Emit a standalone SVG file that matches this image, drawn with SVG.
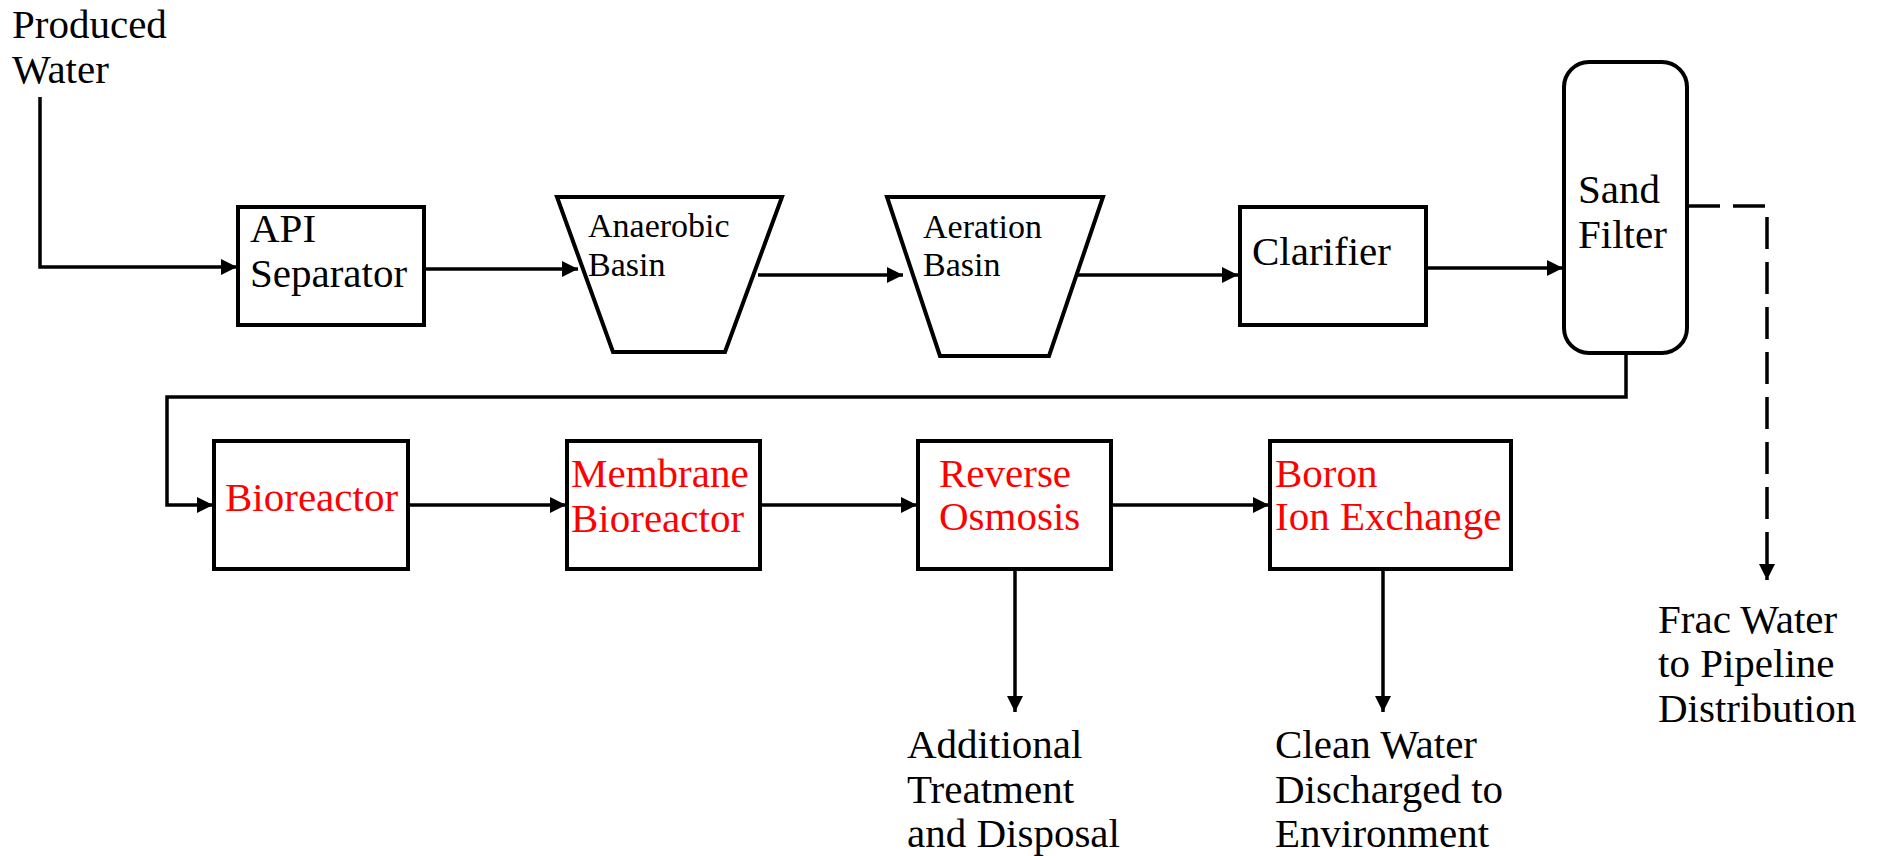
<svg xmlns="http://www.w3.org/2000/svg" width="1881" height="856" viewBox="0 0 1881 856">
<defs>
<marker id="arr" markerUnits="userSpaceOnUse" markerWidth="16" markerHeight="16" refX="16" refY="8" orient="auto">
<path d="M0,0 L16,8 L0,16 Z" fill="#000"/>
</marker>
<style>
.box{fill:#fff;stroke:#000;stroke-width:4}
.ln{fill:none;stroke:#000;stroke-width:3.5;marker-end:url(#arr)}
.dash{stroke-dasharray:32 13}
.t{font-family:"Liberation Serif","Times New Roman",serif;font-size:41px;fill:#000}
.s{font-size:34px}
.r{fill:#ff0000}
</style>
</defs>
<rect width="1881" height="856" fill="#fff"/>
<g id="connectors">
<path class="ln" d="M40,97 V267 H237"/>
<path class="ln" d="M424,269 H578"/>
<path class="ln" d="M758,275 H903"/>
<path class="ln" d="M1078,275 H1238"/>
<path class="ln" d="M1426,268 H1563"/>
<path class="ln dash" d="M1688,206 H1767 V580"/>
<path class="ln" d="M1626,353 V397 H167 V505 H213"/>
<path class="ln" d="M408,505 H566"/>
<path class="ln" d="M760,505 H917"/>
<path class="ln" d="M1111,505 H1269"/>
<path class="ln" d="M1015,569 V712"/>
<path class="ln" d="M1383,569 V712"/>
</g>
<g id="produced-water">
<text class="t" x="12" y="38">Produced</text>
<text class="t" x="12" y="83">Water</text>
</g>
<g id="api-separator">
<rect class="box" x="238" y="207" width="186" height="118"/>
<text class="t" x="250" y="242">API</text>
<text class="t" x="250" y="287">Separator</text>
</g>
<g id="anaerobic-basin">
<polygon class="box" points="557,197 782,197 725,352 613,352"/>
<text class="t s" x="588" y="237">Anaerobic</text>
<text class="t s" x="588" y="276">Basin</text>
</g>
<g id="aeration-basin">
<polygon class="box" points="887,197 1103,197 1049,356 940,356"/>
<text class="t s" x="923" y="238">Aeration</text>
<text class="t s" x="923" y="276">Basin</text>
</g>
<g id="clarifier">
<rect class="box" x="1240" y="207" width="186" height="118"/>
<text class="t" x="1252" y="265">Clarifier</text>
</g>
<g id="sand-filter">
<rect class="box" x="1564" y="62" width="123" height="291" rx="25" ry="25"/>
<text class="t" x="1578" y="203">Sand</text>
<text class="t" x="1578" y="248">Filter</text>
</g>
<g id="frac-water">
<text class="t" x="1658" y="633">Frac Water</text>
<text class="t" x="1658" y="677">to Pipeline</text>
<text class="t" x="1658" y="722">Distribution</text>
</g>
<g id="bioreactor">
<rect class="box" x="214" y="441" width="194" height="128"/>
<text class="t r" x="225" y="511">Bioreactor</text>
</g>
<g id="membrane-bioreactor">
<rect class="box" x="567" y="441" width="193" height="128"/>
<text class="t r" x="571" y="487">Membrane</text>
<text class="t r" x="571" y="532">Bioreactor</text>
</g>
<g id="reverse-osmosis">
<rect class="box" x="918" y="441" width="193" height="128"/>
<text class="t r" x="939" y="487">Reverse</text>
<text class="t r" x="939" y="530">Osmosis</text>
</g>
<g id="boron-ion-exchange">
<rect class="box" x="1270" y="441" width="241" height="128"/>
<text class="t r" x="1275" y="487">Boron</text>
<text class="t r" x="1275" y="530">Ion Exchange</text>
</g>
<g id="additional-treatment">
<text class="t" x="907" y="758">Additional</text>
<text class="t" x="907" y="803">Treatment</text>
<text class="t" x="907" y="847">and Disposal</text>
</g>
<g id="clean-water">
<text class="t" x="1275" y="758">Clean Water</text>
<text class="t" x="1275" y="803">Discharged to</text>
<text class="t" x="1275" y="847">Environment</text>
</g>
</svg>
